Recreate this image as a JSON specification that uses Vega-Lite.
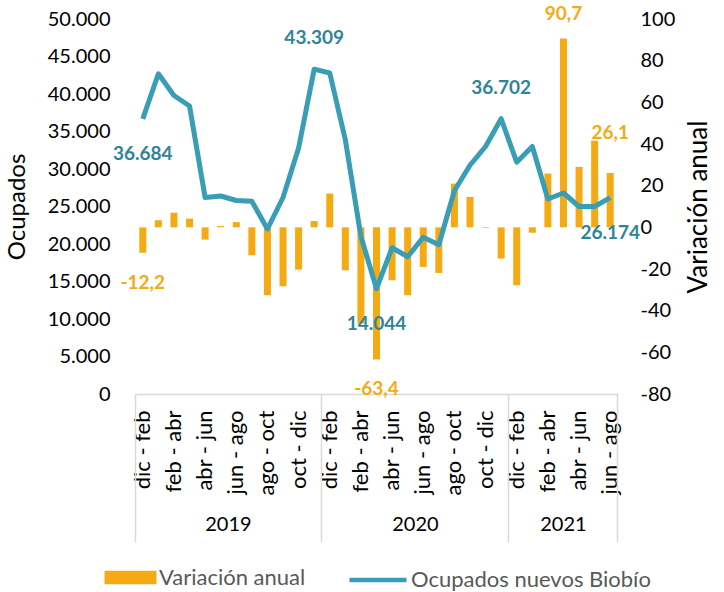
{
  "$schema": "https://vega.github.io/schema/vega-lite/v6.json",
  "width": 483,
  "height": 375,
  "autosize": {"type": "none"},
  "padding": {"left": 135, "top": 19, "right": 106, "bottom": 198},
  "background": "white",
  "datasets": {
    "serie": [
      {"key": "00|2019|dic - feb", "ocupados": 36684, "variacion": -12.2},
      {"key": "01|2019|ene - mar", "ocupados": 42700, "variacion": 3.4},
      {"key": "02|2019|feb - abr", "ocupados": 39800, "variacion": 7.0},
      {"key": "03|2019|mar - may", "ocupados": 38400, "variacion": 4.2},
      {"key": "04|2019|abr - jun", "ocupados": 26200, "variacion": -5.9},
      {"key": "05|2019|may - jul", "ocupados": 26400, "variacion": 0.6},
      {"key": "06|2019|jun - ago", "ocupados": 25800, "variacion": 2.5},
      {"key": "07|2019|jul - sep", "ocupados": 25700, "variacion": -13.4},
      {"key": "08|2019|ago - oct", "ocupados": 22000, "variacion": -32.6},
      {"key": "09|2019|sep - nov", "ocupados": 26200, "variacion": -28.3},
      {"key": "10|2019|oct - dic", "ocupados": 32800, "variacion": -20.3},
      {"key": "11|2019|nov - ene", "ocupados": 43309, "variacion": 3.0},
      {"key": "12|2020|dic - feb", "ocupados": 42800, "variacion": 16.2},
      {"key": "13|2020|ene - mar", "ocupados": 33900, "variacion": -20.6},
      {"key": "14|2020|feb - abr", "ocupados": 21000, "variacion": -46.2},
      {"key": "15|2020|mar - may", "ocupados": 14044, "variacion": -63.4},
      {"key": "16|2020|abr - jun", "ocupados": 19500, "variacion": -25.4},
      {"key": "17|2020|may - jul", "ocupados": 18300, "variacion": -32.6},
      {"key": "18|2020|jun - ago", "ocupados": 20900, "variacion": -19.0},
      {"key": "19|2020|jul - sep", "ocupados": 19900, "variacion": -21.9},
      {"key": "20|2020|ago - oct", "ocupados": 27100, "variacion": 21.0},
      {"key": "21|2020|sep - nov", "ocupados": 30500, "variacion": 14.6},
      {"key": "22|2020|oct - dic", "ocupados": 33000, "variacion": -0.3},
      {"key": "23|2020|nov - ene", "ocupados": 36702, "variacion": -15.0},
      {"key": "24|2021|dic - feb", "ocupados": 30900, "variacion": -27.8},
      {"key": "25|2021|ene - mar", "ocupados": 33000, "variacion": -2.6},
      {"key": "26|2021|feb - abr", "ocupados": 26000, "variacion": 25.8},
      {"key": "27|2021|mar - may", "ocupados": 26800, "variacion": 90.7},
      {"key": "28|2021|abr - jun", "ocupados": 25000, "variacion": 29.0},
      {"key": "29|2021|may - jul", "ocupados": 25000, "variacion": 41.6},
      {"key": "30|2021|jun - ago", "ocupados": 26174, "variacion": 26.1}
    ]
  },
  "data": {"name": "serie"},
  "layer": [
    {
      "mark": {"type": "bar", "size": 7},
      "encoding": {
        "x": {
          "field": "key", "type": "ordinal",
          "scale": {"paddingInner": 0, "paddingOuter": 0},
          "axis": {
            "orient": "bottom", "title": null, "labelAngle": -90,
            "labelExpr": "split(datum.value,'|')[0] % 2 == 0 ? split(datum.value,'|')[2] : ''",
            "ticks": false, "tickSize": 0, "domain": true, "domainColor": "#D9D9D9", "domainWidth": 1.5,
            "labelPadding": 16, "labelOverlap": false, "labelBound": false,
            "labelFontSize": 22
          }
        },
        "y": {
          "field": "variacion", "type": "quantitative",
          "scale": {"domain": [-80, 100], "nice": false},
          "axis": {
            "orient": "right", "values": [-80, -60, -40, -20, 0, 20, 40, 60, 80, 100],
            "title": "Variación anual", "titleAngle": 270, "titlePadding": 37, "titleFontSize": 26,
            "labelPadding": 22, "labelFontSize": 20, "ticks": false, "domain": false, "grid": false
          }
        },
        "fill": {
          "datum": "Variación anual",
          "scale": {"range": ["#F5AA14"]},
          "legend": {"title": null, "symbolType": "M-0.912,-0.237H0.912V0.237H-0.912Z", "symbolSize": 3249, "symbolStrokeWidth": 0, "labelOffset": 0, "labelLimit": 400}
        }
      }
    },
    {
      "mark": {"type": "line", "strokeWidth": 5, "strokeJoin": "round"},
      "encoding": {
        "x": {
          "field": "key", "type": "ordinal",
          "axis": {
            "orient": "bottom", "title": null, "labelAngle": 0,
            "values": ["06|2019|jun - ago", "18|2020|jun - ago", "27|2021|mar - may"],
            "labelExpr": "split(datum.value,'|')[1]",
            "labelOffset": {"condition": {"test": "datum.value == '27|2021|mar - may'", "value": 0}, "value": -7.8},
            "ticks": false, "tickSize": 0, "domain": false, "labelPadding": 120, "labelFontSize": 20,
            "labelOverlap": false, "labelBound": false
          }
        },
        "y": {
          "field": "ocupados", "type": "quantitative",
          "scale": {"domain": [0, 50000], "nice": false},
          "axis": {
            "orient": "left", "values": [0, 5000, 10000, 15000, 20000, 25000, 30000, 35000, 40000, 45000, 50000],
            "format": ",.0f", "title": "Ocupados", "titlePadding": 18, "titleFontSize": 24,
            "labelPadding": 25, "labelFontSize": 20, "ticks": false, "domain": false, "grid": false
          }
        },
        "stroke": {
          "datum": "Ocupados nuevos Biobío",
          "scale": {"range": ["#399DB6"]},
          "legend": {"title": null, "symbolType": "stroke", "symbolSize": 3249, "symbolStrokeWidth": 4.5, "labelOffset": 2, "labelLimit": 400}
        }
      }
    },
    {
      "transform": [{"filter": {"field": "key", "equal": "27|2021|mar - may"}}],
      "mark": {"type": "text", "fontSize": 19, "fontWeight": "bold", "color": "#F5AA14", "dy": -24, "baseline": "middle"},
      "encoding": {
        "x": {
          "field": "key", "type": "ordinal",
          "axis": {
            "orient": "bottom", "title": null, "labels": false, "domain": false,
            "values": ["00|2019|dic - feb", "12|2020|dic - feb", "24|2021|dic - feb"],
            "bandPosition": 0, "ticks": true, "tickSize": 148, "tickColor": "#D9D9D9", "tickWidth": 1.5
          }
        },
        "y": {"field": "variacion", "type": "quantitative", "scale": {"domain": [-80, 100], "nice": false}, "axis": null},
        "text": {"field": "variacion", "type": "quantitative", "format": ".1f"}
      }
    },
    {
      "transform": [{"filter": {"field": "key", "equal": "30|2021|jun - ago"}}],
      "mark": {"type": "text", "fontSize": 19, "fontWeight": "bold", "color": "#F5AA14", "dy": -40, "baseline": "middle"},
      "encoding": {
        "x": {
          "field": "key", "type": "ordinal",
          "axis": {
            "orient": "bottom", "title": null, "labels": false, "domain": false,
            "values": ["30|2021|jun - ago"],
            "bandPosition": 1, "ticks": true, "tickSize": 148, "tickColor": "#D9D9D9", "tickWidth": 1.5
          }
        },
        "y": {"field": "variacion", "type": "quantitative", "scale": {"domain": [-80, 100], "nice": false}, "axis": null},
        "text": {"field": "variacion", "type": "quantitative", "format": ".1f"}
      }
    },
    {
      "transform": [{"filter": {"field": "key", "oneOf": ["00|2019|dic - feb", "15|2020|mar - may"]}}],
      "mark": {"type": "text", "fontSize": 19, "fontWeight": "bold", "color": "#F5AA14", "dy": 30, "baseline": "middle"},
      "encoding": {
        "x": {"field": "key", "type": "ordinal", "axis": null},
        "y": {"field": "variacion", "type": "quantitative", "scale": {"domain": [-80, 100], "nice": false}, "axis": null},
        "text": {"field": "variacion", "type": "quantitative", "format": ".1f"}
      }
    },
    {
      "transform": [{"filter": {"field": "key", "oneOf": ["11|2019|nov - ene", "23|2020|nov - ene"]}}],
      "mark": {"type": "text", "fontSize": 19, "fontWeight": "bold", "color": "#2E8498", "dy": -31, "baseline": "middle"},
      "encoding": {
        "x": {"field": "key", "type": "ordinal", "axis": null},
        "y": {"field": "ocupados", "type": "quantitative", "scale": {"domain": [0, 50000], "nice": false}, "axis": null},
        "text": {"field": "ocupados", "type": "quantitative", "format": ","}
      }
    },
    {
      "transform": [{"filter": {"field": "key", "oneOf": ["00|2019|dic - feb", "15|2020|mar - may", "30|2021|jun - ago"]}}],
      "mark": {"type": "text", "fontSize": 19, "fontWeight": "bold", "color": "#2E8498", "dy": 35, "baseline": "middle"},
      "encoding": {
        "x": {"field": "key", "type": "ordinal", "axis": null},
        "y": {"field": "ocupados", "type": "quantitative", "scale": {"domain": [0, 50000], "nice": false}, "axis": null},
        "text": {"field": "ocupados", "type": "quantitative", "format": ","}
      }
    }
  ],
  "resolve": {
    "scale": {"x": "shared", "y": "independent", "fill": "independent", "stroke": "independent"},
    "axis": {"x": "independent", "y": "independent"}
  },
  "config": {
    "locale": {"number": {"decimal": ",", "thousands": ".", "grouping": [3], "currency": ["$", ""], "minus": "-"}},
    "view": {"stroke": null},
    "font": "Lato",
    "text": {"font": "Lato"},
    "axis": {"labelFont": "Lato", "titleFont": "Lato", "labelColor": "#000000", "titleColor": "#000000", "titleFontWeight": "normal", "grid": false},
    "legend": {
      "orient": "bottom", "offset": 6,
      "labelFont": "Lato", "labelFontSize": 22, "labelColor": "#595959",
      "layout": {"bottom": {"anchor": "middle", "direction": "horizontal", "margin": 41}}
    }
  }
}
